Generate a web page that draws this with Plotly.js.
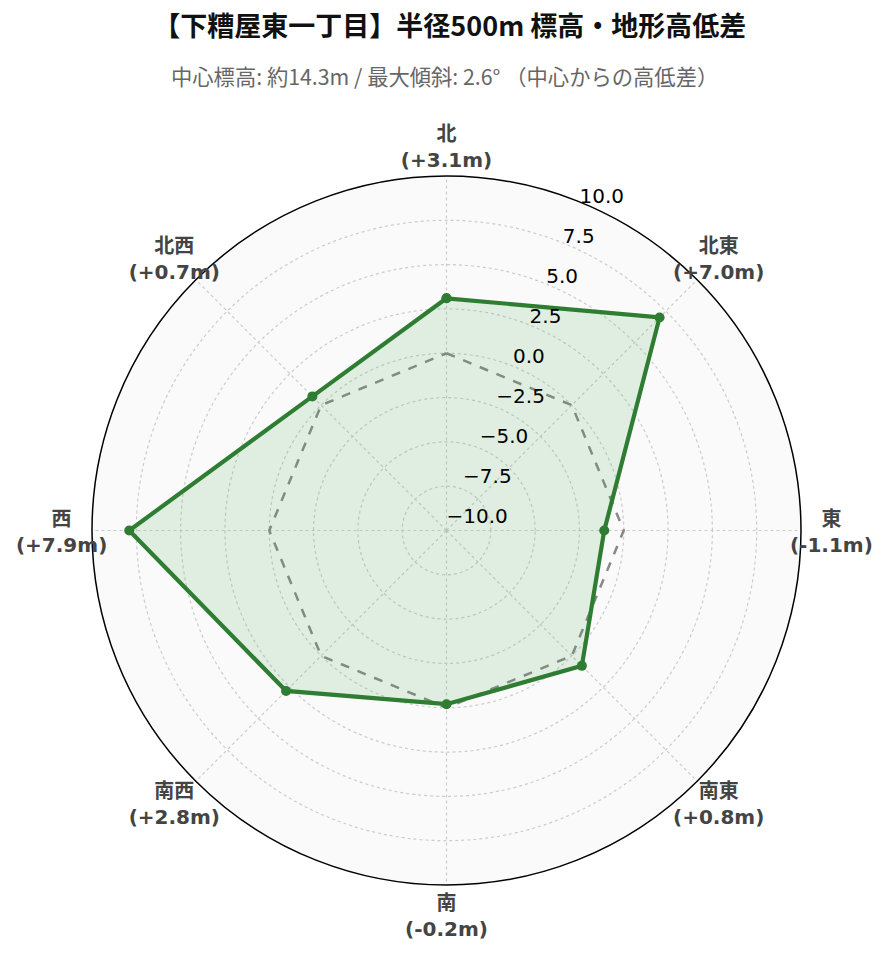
<!DOCTYPE html>
<html>
<head>
<meta charset="utf-8">
<script src="https://cdn.plot.ly/plotly-3.0.1.min.js"></script>
<style>html,body{margin:0;padding:0;background:#fff;}#chart{width:889px;height:962px;}</style>
</head>
<body>
<div id="chart"></div>
<script>
// ---- data ----
const directions = ["北", "北東", "東", "南東", "南", "南西", "西", "北西"];
const directionAngles = [0, 45, 90, 135, 180, 225, 270, 315];
const elevationDiff = [3.1, 7.0, -1.1, 0.8, -0.2, 2.8, 7.9, 0.7];
const referenceLine = [0, 0, 0, 0, 0, 0, 0, 0];
const radialTicks = [-10, -7.5, -5, -2.5, 0, 2.5, 5, 7.5, 10];
const radialTickText = ["−10.0", "−7.5", "−5.0", "−2.5", "0.0", "2.5", "5.0", "7.5", "10.0"];
const titleText = "【下糟屋東一丁目】半径500m 標高・地形高低差";
const subtitleText = "中心標高: 約14.3m / 最大傾斜: 2.6° （中心からの高低差）";

// ---- layout geometry ----
const W = 889, H = 962;
const M = {l: 30, r: 30, t: 120, b: 30};
const CX = 446.5, CY = 530.5, R = 354.5;
const rRange = [-10, 10];
const pxPerUnit = R / (rRange[1] - rRange[0]);
const labelRange = [-10, 12.2];
const R2 = pxPerUnit * (labelRange[1] - labelRange[0]);
const labelR = 11.715;
const R3 = 347.4;
const radialLabelTheta = 22.5;
const pw = W - M.l - M.r, ph = H - M.t - M.b;
function dom(cx, cy, rad) {
  return {
    x: [(cx - rad - M.l) / pw, (cx + rad - M.l) / pw],
    y: [(H - M.b - (cy + rad)) / ph, (H - M.b - (cy - rad)) / ph]
  };
}

function fmt(v) { return (v >= 0 ? "+" : "") + v.toFixed(1) + "m"; }
const dirLabels = directions.map((d, i) => "<b>" + d + "<br>(" + fmt(elevationDiff[i]) + ")</b>");

const closedTheta = directionAngles.concat([directionAngles[0]]);
const traces = [
  {
    type: "scatterpolar", subplot: "polar",
    r: referenceLine.concat([referenceLine[0]]),
    theta: closedTheta,
    mode: "lines",
    line: {color: "#888888", width: 2.5, dash: "dash"},
    hoverinfo: "skip", showlegend: false
  },
  {
    type: "scatterpolar", subplot: "polar",
    r: elevationDiff.concat([elevationDiff[0]]),
    theta: closedTheta,
    mode: "lines+markers",
    fill: "toself",
    fillcolor: "rgba(76,175,80,0.15)",
    line: {color: "#2e7d32", width: 4.2},
    marker: {color: "#2e7d32", size: 10},
    showlegend: false
  },
  {
    type: "scatterpolar", subplot: "polar2",
    r: directions.map(() => labelR),
    theta: directionAngles,
    mode: "text",
    text: dirLabels,
    textposition: "middle center",
    textfont: {family: "DejaVu Sans, Noto Sans CJK JP, sans-serif", size: 20, color: "#444"},
    cliponaxis: false,
    hoverinfo: "skip", showlegend: false
  },
  {
    type: "scatterpolar", subplot: "polar3",
    r: radialTicks,
    theta: radialTicks.map(() => radialLabelTheta),
    mode: "text",
    text: radialTickText,
    textposition: "top right",
    textfont: {family: "DejaVu Sans, sans-serif", size: 20, color: "#000"},
    cliponaxis: false,
    hoverinfo: "skip", showlegend: false
  }
];

const hiddenAngular = {type: "linear", rotation: 90, direction: "clockwise",
  showticklabels: false, showline: false, showgrid: false, ticks: ""};

const layout = {
  width: W, height: H,
  paper_bgcolor: "#ffffff",
  font: {family: "DejaVu Sans, Noto Sans CJK JP, sans-serif", size: 20, color: "#000"},
  margin: M,
  title: {
    text: "<b>" + titleText + "</b>",
    font: {family: "Noto Sans CJK JP, sans-serif", size: 27, color: "#111"},
    x: 0.506, xanchor: "center",
    y: 1 - 27 / H, yanchor: "middle", yref: "container"
  },
  annotations: [{
    text: subtitleText,
    xref: "paper", yref: "paper",
    x: (444 - M.l) / pw, y: (H - M.b - 76) / ph,
    xanchor: "center", yanchor: "middle",
    showarrow: false,
    font: {family: "Noto Sans CJK JP, sans-serif", size: 21.3, color: "#666"}
  }],
  polar: {
    domain: dom(CX, CY, R),
    bgcolor: "#fafafa",
    angularaxis: {
      type: "linear",
      rotation: 90,
      direction: "clockwise",
      tickmode: "array",
      tickvals: directionAngles,
      showticklabels: false,
      showline: true,
      linecolor: "#000",
      linewidth: 1.5,
      gridcolor: "#cccccc",
      griddash: "dot",
      gridwidth: 1.2,
      ticks: ""
    },
    radialaxis: {
      range: rRange,
      tickmode: "array",
      tickvals: radialTicks,
      showticklabels: false,
      angle: 90 - radialLabelTheta,
      showline: false,
      ticks: "",
      gridcolor: "#cccccc",
      griddash: "dot",
      gridwidth: 1.2
    }
  },
  polar2: {
    domain: dom(CX, CY + 3, R2),
    bgcolor: "rgba(0,0,0,0)",
    angularaxis: hiddenAngular,
    radialaxis: {range: labelRange, visible: false, showgrid: false, showline: false, showticklabels: false, ticks: ""}
  },
  polar3: {
    domain: dom(CX, CY - 2, R3),
    bgcolor: "rgba(0,0,0,0)",
    angularaxis: hiddenAngular,
    radialaxis: {range: rRange, visible: false, showgrid: false, showline: false, showticklabels: false, ticks: ""}
  }
};

Plotly.newPlot("chart", traces, layout, {displayModeBar: false, staticPlot: true});
</script>
</body>
</html>
